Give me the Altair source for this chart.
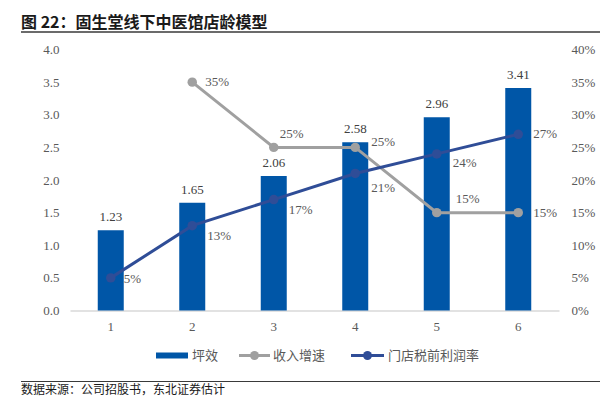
import altair as alt
import pandas as pd

# ---- data ----
categories = ["1", "2", "3", "4", "5", "6"]
ping_xiao = [1.23, 1.65, 2.06, 2.58, 2.96, 3.41]          # 坪效
revenue_growth = [None, 0.35, 0.25, 0.25, 0.15, 0.15]     # 收入增速
store_margin = [0.05, 0.13, 0.17, 0.21, 0.24, 0.27]       # 门店税前利润率
left_ticks = [0, 0.5, 1.0, 1.5, 2.0, 2.5, 3.0, 3.5, 4.0]
right_ticks = [0, 0.05, 0.10, 0.15, 0.20, 0.25, 0.30, 0.35, 0.40]

title_text = "图 22：固生堂线下中医馆店龄模型"
source_text = "数据来源：公司招股书，东北证券估计"
legend_labels = ["坪效", "收入增速", "门店税前利润率"]

BAR = "#0056A7"
GRAY = "#A0A0A0"
NAVY = "#2F4D97"
TXT = "#404040"
AX = "#595959"
SERIF = "Liberation Serif"
CJK = "Noto Sans CJK SC"

bar_df = pd.DataFrame({"cat": categories, "v": ping_xiao})
growth_df = pd.DataFrame({"cat": categories, "v": revenue_growth}).dropna()
margin_df = pd.DataFrame({"cat": categories, "v": store_margin})
one = pd.DataFrame({"k": [0]})

x_enc = alt.X("cat:N", sort=categories, title=None,
              scale=alt.Scale(paddingInner=0, paddingOuter=0),
              axis=alt.Axis(labelAngle=0, ticks=False, domainColor="#D9D9D9",
                            domainWidth=1.5, labelColor=AX, labelFont=SERIF,
                            labelFontSize=13, labelPadding=10))

y_left = alt.Y("v:Q", title=None, scale=alt.Scale(domain=[0, 4]),
               axis=alt.Axis(values=left_ticks, format=".1f", grid=False, domain=False,
                             ticks=False, labelColor=AX, labelFont=SERIF,
                             labelFontSize=13, labelPadding=11))
y_right = alt.Y("v:Q", title=None, scale=alt.Scale(domain=[0, 0.4]),
                axis=alt.Axis(values=right_ticks, format=".0%", grid=False, domain=False,
                              ticks=False, orient="right", labelColor=AX, labelFont=SERIF,
                              labelFontSize=13, labelPadding=12))

bars = alt.Chart(bar_df).mark_bar(size=26, color=BAR).encode(x=x_enc, y=y_left)
bar_text = alt.Chart(bar_df).mark_text(dy=-13, font=SERIF, fontSize=13, color=TXT,
                                       baseline="middle").encode(
    x=x_enc, y=y_left, text=alt.Text("v:Q", format=".2f"))
left = alt.layer(bars, bar_text)

growth_line = alt.Chart(growth_df).mark_line(
    color=GRAY, strokeWidth=3,
    point=alt.OverlayMarkDef(filled=True, size=90, color=GRAY)).encode(x=x_enc, y=y_right)
margin_line = alt.Chart(margin_df).mark_line(
    color=NAVY, strokeWidth=3,
    point=alt.OverlayMarkDef(filled=True, size=90, color=NAVY)).encode(x=x_enc, y=y_right)


def labels(df, cats, dx, dy):
    return alt.Chart(df).transform_filter(
        alt.FieldOneOfPredicate(field="cat", oneOf=cats)
    ).mark_text(align="left", baseline="middle", dx=dx, dy=dy, font=SERIF,
                fontSize=13, color=AX).encode(
        x=x_enc, y=y_right, text=alt.Text("v:Q", format=".0%"))


g_labels = [labels(growth_df, ["2"], 13, 0), labels(growth_df, ["3"], 6, -13),
            labels(growth_df, ["4"], 16, -5), labels(growth_df, ["5"], 19, -14),
            labels(growth_df, ["6"], 15, 0)]
m_labels = [labels(margin_df, ["1"], 13, 1), labels(margin_df, ["2", "3"], 15, 10),
            labels(margin_df, ["4"], 16, 15), labels(margin_df, ["5"], 16, 9),
            labels(margin_df, ["6"], 15, 0)]

right = alt.layer(growth_line, margin_line, *g_labels, *m_labels)

# ---- decorations: title, rules, legend, source ----
base = alt.Chart(one)
deco = [
    base.mark_text(align="left", baseline="middle", font=CJK, fontSize=16,
                   fontWeight="bold", color="#1a1a1a").encode(
        x=alt.value(-49), y=alt.value(-26.5), text=alt.value(title_text)),
    base.mark_rule(color="#3a3a3a", strokeWidth=1.5).encode(
        x=alt.value(-49), x2=alt.value(530), y=alt.value(-17.5)),
    base.mark_rule(color="#3a3a3a", strokeWidth=1.2).encode(
        x=alt.value(-49), x2=alt.value(530), y=alt.value(332)),
    base.mark_text(align="left", baseline="middle", font=CJK, fontSize=12,
                   color="#1a1a1a").encode(
        x=alt.value(-49), y=alt.value(340), text=alt.value(source_text)),
    # legend
    base.mark_rect(color=BAR).encode(x=alt.value(86), x2=alt.value(118),
                                     y=alt.value(303), y2=alt.value(309)),
    base.mark_text(align="left", baseline="middle", font=CJK, fontSize=13,
                   color=AX).encode(x=alt.value(122), y=alt.value(306),
                                    text=alt.value(legend_labels[0])),
    base.mark_rule(color=GRAY, strokeWidth=3).encode(x=alt.value(169), x2=alt.value(200),
                                                     y=alt.value(306)),
    base.mark_point(filled=True, size=80, color=GRAY, opacity=1).encode(
        x=alt.value(184.5), y=alt.value(306)),
    base.mark_text(align="left", baseline="middle", font=CJK, fontSize=13,
                   color=AX).encode(x=alt.value(203), y=alt.value(306),
                                    text=alt.value(legend_labels[1])),
    base.mark_rule(color=NAVY, strokeWidth=3).encode(x=alt.value(281), x2=alt.value(314),
                                                     y=alt.value(306)),
    base.mark_point(filled=True, size=80, color=NAVY, opacity=1).encode(
        x=alt.value(297.5), y=alt.value(306)),
    base.mark_text(align="left", baseline="middle", font=CJK, fontSize=13,
                   color=AX).encode(x=alt.value(318), y=alt.value(306),
                                    text=alt.value(legend_labels[2])),
]

chart = alt.layer(left, right, *deco).resolve_scale(y="independent").properties(
    width=489, height=261,
    padding={"left": 12, "top": 6.5, "right": 0, "bottom": 0},
).configure_view(stroke=None)

chart.save("out.html", embed_options={"renderer": "svg", "actions": False})
